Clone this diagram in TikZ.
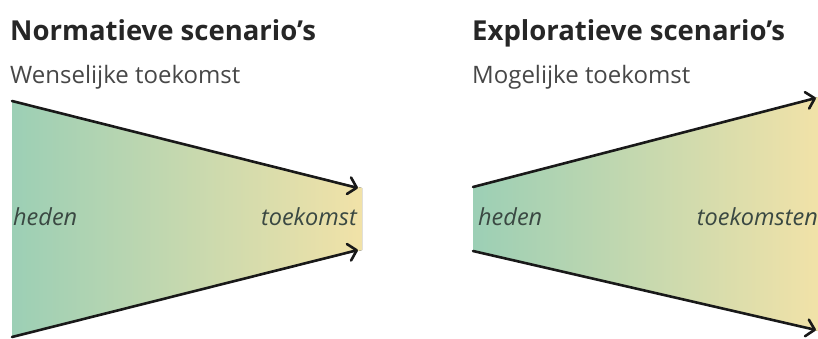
\documentclass[tikz,border=0pt]{standalone}
\usepackage{fontspec}
\setmainfont{Open Sans}
\usetikzlibrary{arrows.meta}
\definecolor{nowgreen}{HTML}{9CCFB5}
\definecolor{futureyellow}{HTML}{F1E2A8}
\definecolor{labelink}{HTML}{3A4842}
\definecolor{titleink}{HTML}{262626}
\tikzset{
  title/.style={anchor=base west, inner sep=0pt, font=\fontsize{27.5}{32}\selectfont\bfseries, text=titleink},
  subtitle/.style={anchor=base west, inner sep=0pt, font=\fontsize{24}{28}\selectfont, text=titleink!85},
  timelabel/.style={inner sep=0pt, font=\fontsize{23.5}{28}\selectfont\itshape, text=labelink},
  funnel/.style={left color=nowgreen, right color=futureyellow, draw=none},
  edge/.style={draw=black!90, line width=2.6pt, line cap=round,
    -{Straight Barb[length=8pt,width=17pt,line width=2.6pt,round]}},
}
\begin{document}
\begin{tikzpicture}[x=1pt, y=-1pt]
  \useasboundingbox (0,0) rectangle (818,338);

  % normative: wide present narrowing to one future
  \coordinate (nTL) at (12,101);
  \coordinate (nBL) at (12,337);
  \coordinate (nTR) at (358,188);
  \coordinate (nBR) at (358,250);
  \fill[funnel] (nTL) -- (362,188) -- (362,250) -- (nBL) -- cycle;
  \draw[edge] (nTL) -- (nTR);
  \draw[edge] (nBL) -- (nBR);
  \node[title] (ntitle) at (10,40) {Normatieve scenario’s};
  \node[subtitle] (nsub) at (10,83) {Wenselijke toekomst};
  \node[timelabel, anchor=base west] (nnow) at (13,225) {heden};
  \node[timelabel, anchor=base east] (nfut) at (357,225) {toekomst};

  % explorative: narrow present widening to many futures
  \coordinate (eTL) at (473,187);
  \coordinate (eBL) at (473,251);
  \coordinate (eTR) at (816,98);
  \coordinate (eBR) at (816,330);
  \fill[funnel] (eTL) -- (818,97) -- (818,331) -- (eBL) -- cycle;
  \draw[edge] (eTL) -- (eTR);
  \draw[edge] (eBL) -- (eBR);
  \node[title] (etitle) at (472,40) {Exploratieve scenario’s};
  \node[subtitle] (esub) at (472,83) {Mogelijke toekomst};
  \node[timelabel, anchor=base west] (enow) at (478,225) {heden};
  \node[timelabel, anchor=base east] (efut) at (818,225) {toekomsten};
\end{tikzpicture}
\end{document}
